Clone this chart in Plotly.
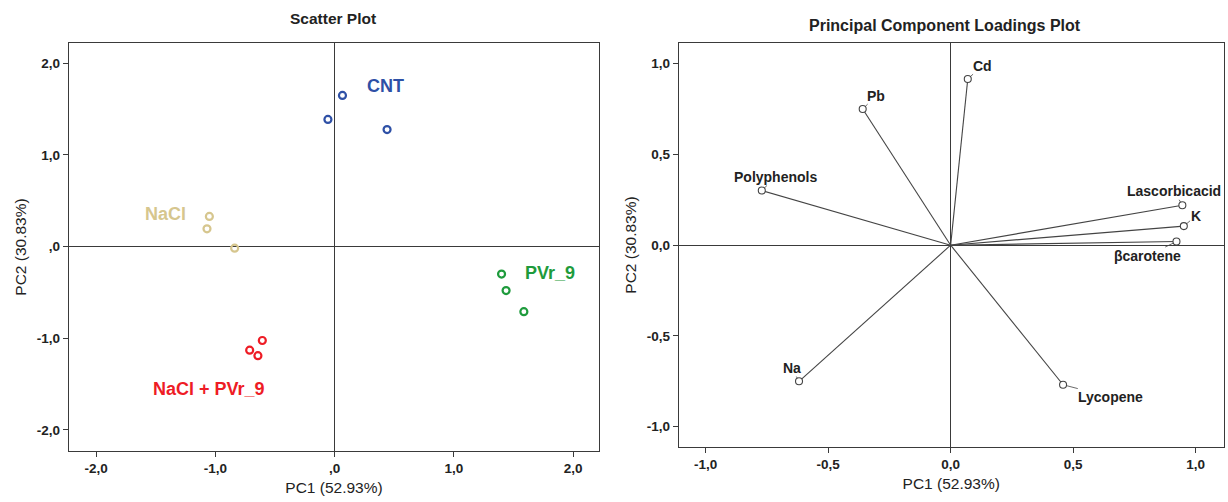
import plotly.graph_objects as go

# ---- Scatter plot data (PC scores) ----
groups = ["CNT", "NaCl", "NaCl + PVr_9", "PVr_9"]
group_colors = ["#2E50A6", "#D6C68E", "#EE1C25", "#1E9B3C"]
pc1_scores = [
    [0.066, -0.056, 0.44],
    [-1.05, -1.07, -0.838],
    [-0.606, -0.712, -0.643],
    [1.40, 1.438, 1.587],
]
pc2_scores = [
    [1.648, 1.386, 1.276],
    [0.328, 0.193, -0.018],
    [-1.025, -1.13, -1.19],
    [-0.30, -0.48, -0.71],
]
group_label_x = [0.43, -1.42, -1.05, 1.81]
group_label_y = [1.75, 0.36, -1.55, -0.29]

# ---- Loadings data ----
variables = ["Cd", "Pb", "Polyphenols", "Lascorbicacid", "K", "βcarotene", "Na", "Lycopene"]
load_pc1 = [0.070, -0.359, -0.771, 0.946, 0.952, 0.922, -0.619, 0.459]
load_pc2 = [0.916, 0.750, 0.301, 0.220, 0.105, 0.020, -0.750, -0.769]
var_label_x = [0.13, -0.304, -0.714, 0.913, 1.0, 0.805, -0.649, 0.652]
var_label_y = [0.989, 0.824, 0.376, 0.297, 0.16, -0.057, -0.677, -0.837]

left_ticks = [-2, -1, 0, 1, 2]
left_ticktext = ["-2,0", "-1,0", ",0", "1,0", "2,0"]
right_ticks = [-1, -0.5, 0, 0.5, 1]
right_ticktext = ["-1,0", "-0,5", "0,0", "0,5", "1,0"]

FONT = "Liberation Sans, Arial, sans-serif"
AX = "#3a3a3a"

fig = go.Figure()

for g, c, xs, ys in zip(groups, group_colors, pc1_scores, pc2_scores):
    fig.add_trace(go.Scatter(
        x=xs, y=ys, mode="markers", name=g, xaxis="x", yaxis="y",
        marker=dict(symbol="circle-open", size=7, color=c, line=dict(width=2.2, color=c)),
        showlegend=False, hoverinfo="skip"))

for v, px, py in zip(variables, load_pc1, load_pc2):
    fig.add_trace(go.Scatter(
        x=[0, px], y=[0, py], mode="lines", xaxis="x2", yaxis="y2",
        line=dict(color="#444444", width=1.1), showlegend=False, hoverinfo="skip"))
fig.add_trace(go.Scatter(
    x=load_pc1, y=load_pc2, mode="markers", xaxis="x2", yaxis="y2",
    marker=dict(symbol="circle", size=7, color="white", line=dict(width=1.1, color="#444444")),
    showlegend=False, hoverinfo="skip"))

annotations = []
for g, c, lx, ly in zip(groups, group_colors, group_label_x, group_label_y):
    annotations.append(dict(x=lx, y=ly, xref="x", yref="y", text="<b>%s</b>" % g,
                            showarrow=False, font=dict(family=FONT, size=18, color=c)))
for v, px, py, lx, ly in zip(variables, load_pc1, load_pc2, var_label_x, var_label_y):
    annotations.append(dict(x=px, y=py, xref="x2", yref="y2", ax=lx, ay=ly,
                            axref="x2", ayref="y2", text="<b>%s</b>" % v,
                            showarrow=True, arrowhead=0, arrowwidth=0.8, arrowcolor="#444444",
                            standoff=3.5, borderpad=0,
                            font=dict(family=FONT, size=14, color="#222222")))
annotations += [
    dict(x=333 / 1228, y=1 - 19 / 502, xref="paper", yref="paper", xanchor="center", yanchor="middle",
         text="<b>Scatter Plot</b>", showarrow=False, font=dict(family=FONT, size=15.5, color="#222222")),
    dict(x=945 / 1228, y=1 - 26 / 502, xref="paper", yref="paper", xanchor="center", yanchor="middle",
         text="<b>Principal Component Loadings Plot</b>", showarrow=False,
         font=dict(family=FONT, size=16, color="#222222")),
]

def axis_common():
    return dict(showgrid=False, zeroline=True, zerolinecolor=AX, zerolinewidth=1.4,
                showline=True, linecolor=AX, linewidth=1.4, mirror=True,
                ticks="outside", ticklen=5, tickcolor=AX,
                tickfont=dict(family=FONT, size=13.5, color="#222222"),
                title_font=dict(family=FONT, size=15.5, color="#222222"))

def bold(lst):
    return ["<b>%s</b>" % t for t in lst]

fig.update_layout(
    width=1228, height=502, plot_bgcolor="white", paper_bgcolor="white",
    margin=dict(l=0, r=0, t=0, b=0),
    xaxis=dict(domain=[69 / 1228, 599 / 1228], range=[-2.227, 2.217], tickvals=left_ticks,
               ticktext=bold(left_ticktext), title=dict(text="PC1 (52.93%)", standoff=6),
               anchor="y", **axis_common()),
    yaxis=dict(domain=[1 - 451 / 502, 1 - 43 / 502], range=[-2.23, 2.22], tickvals=left_ticks,
               ticktext=bold(left_ticktext), title=dict(text="PC2 (30.83%)", standoff=6),
               anchor="x", **axis_common()),
    xaxis2=dict(domain=[679 / 1228, 1223.5 / 1228], range=[-1.109, 1.114], tickvals=right_ticks,
                ticktext=bold(right_ticktext), title=dict(text="PC1 (52.93%)", standoff=6),
                anchor="y2", **axis_common()),
    yaxis2=dict(domain=[1 - 447 / 502, 1 - 43 / 502], range=[-1.112, 1.114], tickvals=right_ticks,
                ticktext=bold(right_ticktext), title=dict(text="PC2 (30.83%)", standoff=6),
                anchor="x2", **axis_common()),
    annotations=annotations,
)

fig.write_html("out.html", config={"displayModeBar": False},
               post_script="document.body.style.margin='0';")
